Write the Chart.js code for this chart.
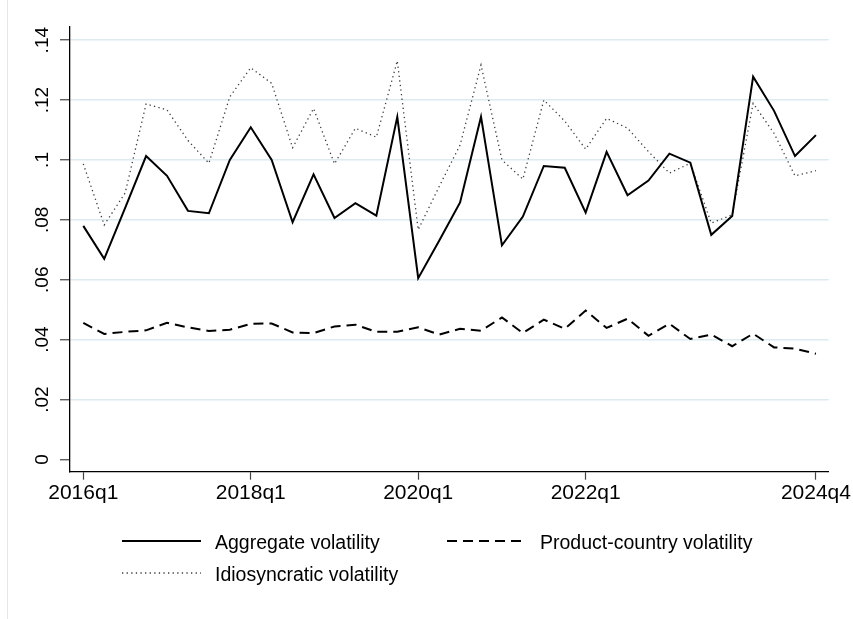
<!DOCTYPE html>
<html>
<head>
<meta charset="utf-8">
<script src="https://cdn.jsdelivr.net/npm/chart.js@4/dist/chart.umd.min.js"></script>
<style>
  html, body { margin: 0; padding: 0; background: #ffffff; }
  #wrap { width: 853px; height: 619px; position: relative; }
</style>
</head>
<body>
<div id="wrap"><canvas id="c" width="853" height="619"></canvas></div>
<script>
// ---- data ----
const quarters = [
  '2016q1','2016q2','2016q3','2016q4','2017q1','2017q2','2017q3','2017q4',
  '2018q1','2018q2','2018q3','2018q4','2019q1','2019q2','2019q3','2019q4',
  '2020q1','2020q2','2020q3','2020q4','2021q1','2021q2','2021q3','2021q4',
  '2022q1','2022q2','2022q3','2022q4','2023q1','2023q2','2023q3','2023q4',
  '2024q1','2024q2','2024q3','2024q4'
];
const aggregateVol = [
  0.078, 0.067, 0.084, 0.1013, 0.0947, 0.0830, 0.0822, 0.1000,
  0.1109, 0.1000, 0.0792, 0.0952, 0.0806, 0.0856, 0.0814, 0.1144,
  0.0605, 0.0730, 0.0858, 0.1144, 0.0715, 0.0811, 0.0980, 0.0974,
  0.0824, 0.1027, 0.0882, 0.0931, 0.1021, 0.0991, 0.0750, 0.0813,
  0.1278, 0.1164, 0.1013, 0.1083
];
const productCountryVol = [
  0.0456, 0.0419, 0.0426, 0.0431, 0.0456, 0.0441, 0.0429, 0.0433,
  0.0453, 0.0454, 0.0424, 0.0422, 0.0444, 0.0450, 0.0426, 0.0426,
  0.0441, 0.0417, 0.0436, 0.0430, 0.0474, 0.0422, 0.0467, 0.0436,
  0.0497, 0.0439, 0.0470, 0.0413, 0.0453, 0.0402, 0.0417, 0.0378,
  0.0420, 0.0374, 0.0370, 0.0353
];
const idiosyncraticVol = [
  0.0987, 0.0783, 0.0890, 0.1187, 0.1167, 0.1065, 0.0989, 0.1211,
  0.1308, 0.1256, 0.1041, 0.1172, 0.0987, 0.1106, 0.1076, 0.1331,
  0.0767, 0.0911, 0.1050, 0.1317, 0.1000, 0.0936, 0.1200, 0.1130,
  0.1036, 0.1139, 0.1106, 0.1028, 0.0956, 0.0989, 0.0789, 0.0817,
  0.1189, 0.1089, 0.0947, 0.0964
];
const xTickIndex = [0, 8, 16, 24, 35];
const yTickValues = [0, 0.02, 0.04, 0.06, 0.08, 0.10, 0.12, 0.14];
const yTickLabels = ['0', '.02', '.04', '.06', '.08', '.1', '.12', '.14'];
const seriesNames = ['Aggregate volatility', 'Product-country volatility', 'Idiosyncratic volatility'];

const FONT = "'Liberation Sans', Arial, sans-serif";
const toPts = arr => arr.map((v, i) => ({ x: i, y: v }));

const datasets = [
  { label: seriesNames[0], data: toPts(aggregateVol), borderColor: '#000000', borderWidth: 2, borderDash: [], order: 1 },
  { label: seriesNames[1], data: toPts(productCountryVol), borderColor: '#000000', borderWidth: 2, borderDash: [10, 6], order: 2 },
  { label: seriesNames[2], data: toPts(idiosyncraticVol), borderColor: '#3c3c3c', borderWidth: 1.3, borderDash: [1.3, 3.3], order: 3 }
];
datasets.forEach(d => { d.pointRadius = 0; d.tension = 0; d.fill = false; d.borderCapStyle = 'butt'; d.borderJoinStyle = 'miter'; });

const yLabelsPlugin = {
  id: 'yLabels',
  afterDraw(chart) {
    const ctx = chart.ctx, ys = chart.scales.y;
    ctx.save();
    ctx.fillStyle = '#000';
    ctx.font = '19px ' + FONT;
    ctx.textAlign = 'center';
    ctx.textBaseline = 'alphabetic';
    yTickValues.forEach((v, i) => {
      const py = ys.getPixelForValue(v);
      ctx.save();
      ctx.translate(48, py);
      ctx.rotate(-Math.PI / 2);
      ctx.fillText(yTickLabels[i], 0, 0);
      ctx.restore();
    });
    ctx.restore();
  }
};

const legendPlugin = {
  id: 'customLegend',
  afterDraw(chart) {
    const ctx = chart.ctx;
    const items = [
      { ds: 0, x: 122, y: 541 },
      { ds: 1, x: 447, y: 541 },
      { ds: 2, x: 122, y: 573 }
    ];
    ctx.save();
    items.forEach(it => {
      const d = chart.data.datasets[it.ds];
      ctx.beginPath();
      ctx.strokeStyle = d.borderColor;
      ctx.lineWidth = d.borderWidth;
      ctx.setLineDash(d.borderDash || []);
      ctx.moveTo(it.x, it.y);
      ctx.lineTo(it.x + 79, it.y);
      ctx.stroke();
      ctx.setLineDash([]);
      ctx.fillStyle = '#000';
      ctx.font = '19.5px ' + FONT;
      ctx.textAlign = 'left';
      ctx.textBaseline = 'alphabetic';
      ctx.fillText(d.label, it.x + 93, it.y + 7.5);
    });
    // faint outer frame line at left
    ctx.beginPath();
    ctx.strokeStyle = '#e6e6e6';
    ctx.lineWidth = 1;
    ctx.moveTo(7.5, 0);
    ctx.lineTo(7.5, 619);
    ctx.stroke();
    ctx.restore();
  }
};

new Chart(document.getElementById('c'), {
  type: 'line',
  data: { datasets },
  options: {
    responsive: false,
    animation: false,
    devicePixelRatio: 1,
    layout: { padding: { left: 0, right: 24.3, top: 27, bottom: 0 } },
    plugins: { legend: { display: false }, tooltip: { enabled: false } },
    scales: {
      x: {
        type: 'linear',
        min: -0.635,
        max: 35.61,
        afterBuildTicks: s => { s.ticks = xTickIndex.map(v => ({ value: v })); },
        afterFit: s => { s.height = 619 - 471.7; s.paddingLeft = 0; s.paddingRight = 0; },
        ticks: {
          autoSkip: false, maxRotation: 0, minRotation: 0,
          color: '#000', padding: 1,
          font: { family: FONT, size: 21 },
          callback: v => quarters[v]
        },
        grid: { drawOnChartArea: false, drawTicks: true, tickLength: 8, tickColor: '#444', tickWidth: 1.2 },
        border: { display: true, color: '#000', width: 1.3 }
      },
      y: {
        type: 'linear',
        min: -0.0041,
        max: 0.1444,
        afterBuildTicks: s => { s.ticks = yTickValues.map(v => ({ value: v })); },
        afterFit: s => { s.width = 70; },
        ticks: { display: false },
        grid: {
          drawOnChartArea: true, drawTicks: true, tickLength: 10,
          color: ctx => (ctx.tick && ctx.tick.value === 0) ? 'rgba(0,0,0,0)' : 'rgb(221,234,240)',
          lineWidth: 1.5,
          tickColor: '#444', tickWidth: 1.2
        },
        border: { display: true, color: '#000', width: 1.3 }
      }
    }
  },
  plugins: [yLabelsPlugin, legendPlugin]
});
</script>
</body>
</html>
